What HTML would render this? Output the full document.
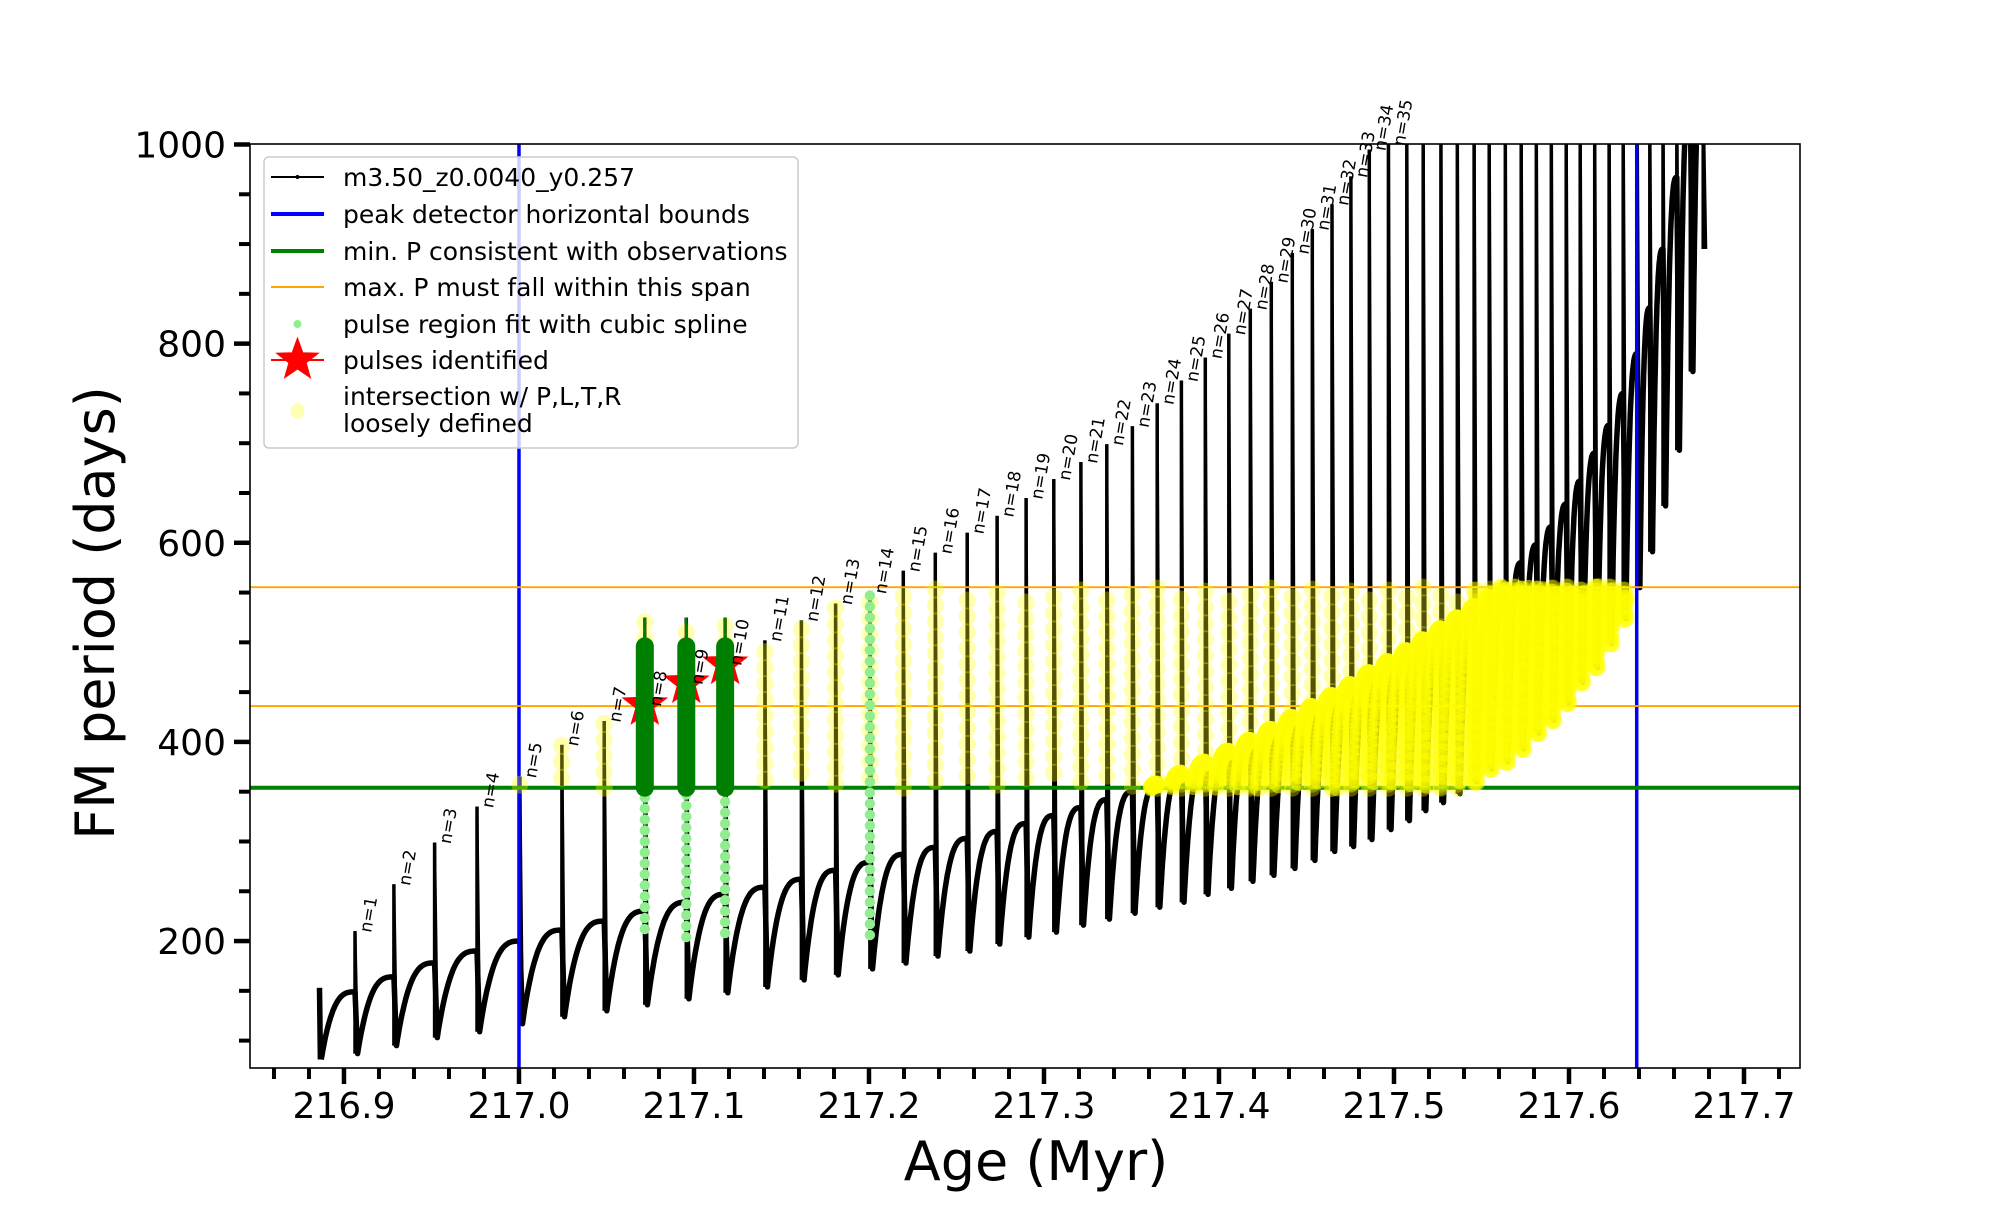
<!DOCTYPE html>
<html><head><meta charset="utf-8"><style>
html,body{margin:0;padding:0;background:#fff;}
svg text{font-family:"DejaVu Sans","Liberation Sans",sans-serif;}
</style></head><body>
<svg id="chart" width="2000" height="1200" viewBox="0 0 2000 1200" xmlns="http://www.w3.org/2000/svg">
<defs><clipPath id="plotclip"><rect x="250" y="144" width="1550" height="924"/></clipPath></defs>
<rect x="0" y="0" width="2000" height="1200" fill="#fff"/>
<g id="plot" clip-path="url(#plotclip)"></g>
<rect x="250" y="144" width="1550" height="924" fill="none" stroke="#000" stroke-width="1.6"/>
<g id="ticks"></g>
<g id="labels"></g>
<text x="114" y="613" transform="rotate(-90 114 613)" font-size="54" text-anchor="middle">FM period (days)</text>
<text x="1036" y="1180" font-size="54" text-anchor="middle">Age (Myr)</text>
<g id="legend">
  <rect x="264" y="157" width="534" height="291" rx="5" fill="#fff" fill-opacity="0.8" stroke="#ccc" stroke-width="1.5"/>
  <g><line x1="271" y1="177" x2="324" y2="177" stroke="#000" stroke-width="2"/><circle cx="297.5" cy="177" r="2" fill="#000"/><text x="343" y="186" font-size="25">m3.50_z0.0040_y0.257</text></g>
  <g><line x1="271" y1="214" x2="324" y2="214" stroke="#0000ff" stroke-width="4"/><text x="343" y="223" font-size="25">peak detector horizontal bounds</text></g>
  <g><line x1="271" y1="251" x2="324" y2="251" stroke="#008000" stroke-width="4"/><text x="343" y="260" font-size="25">min. P consistent with observations</text></g>
  <g><line x1="271" y1="287" x2="324" y2="287" stroke="#ffa500" stroke-width="2"/><text x="343" y="296" font-size="25">max. P must fall within this span</text></g>
  <g><circle cx="297.5" cy="324" r="4" fill="#90ee90"/><text x="343" y="333" font-size="25">pulse region fit with cubic spline</text></g>
  <g><polygon id="legstar" fill="#ff0000" stroke="#ff0000"/><line x1="271" y1="360" x2="324" y2="360" stroke="#ff0000" stroke-width="2"/><text x="343" y="369" font-size="25">pulses identified</text></g>
  <g><ellipse cx="297.5" cy="411" rx="7" ry="8" fill="#ffff00" fill-opacity="0.3"/><text x="343" y="405" font-size="25">intersection w/ P,L,T,R</text><text x="343" y="432" font-size="25">loosely defined</text></g>
</g>
</svg>
<script>
const pulseAge=[216.9063,216.9285,216.9518,216.9760,217.0005,217.0245,217.0487,217.0719,217.0956,217.1178,217.1405,217.1614,217.1809,217.2005,217.2196,217.2379,217.2561,217.2732,217.2898,217.3056,217.3211,217.3359,217.3505,217.3647,217.3785,217.3922,217.4056,217.4179,217.4299,217.4419,217.4533,217.4646,217.4754,217.4859,217.4968,217.5073,217.5167,217.5268,217.5362,217.5458,217.5544,217.5636,217.5727,217.5813,217.5899,217.5984,217.6064,217.6147,217.6229,217.6310,217.6390,217.6462,217.6537,217.6616,217.6693,217.6767];
const pulseTop=[210,257,299,335,365,397,421,525,525,525,502,522,539,550,572,590,610,627,645,664,681,699,717,740,763,786,810,835,862,891,915,940,968,995,1050,1050,1050,1050,1050,1050,1050,1050,1050,1050,1050,1050,1050,1050,1050,1050,1050,1050,1050,1050,1050,1050];
const pulseDip=[87,95,103,109,117,124,130,136,142,148,154,161,166,172,178,185,190,197,204,209,216,222,228,234,239,247,253,260,266,273,281,290,295,302,312,321,331,339,348,360,373,380,393,409,422,439,460,475,499,524,555,591,637,693,772,895];
const prePlateau=[149,164,178,190,200,211,220,230,239,247,254,262,271,279,287,294,303,310,318,326,334,342,350,357,368,379,390,401,412,424,435,446,457,469,480,491,502,513,524,535,545,560,580,598,616,639,662,690,718,750,790,836,895,967,1050,1100];
const startAge=216.886, startValue=153, startDip=81;
const boundAges=[217.0,217.6387];
const minPeriod=[354];
const maxPeriodSpan=[436,555.4];
const starPulse=[8,9,10];
const starPeriod=[437,459,478];
const splinePulse=[8,9,10,14];
const splineLow=[212,204,208,206];
const splineHigh=[354,354,354,550];
const darkTop=[496,496,496];
const xTicks=[216.9,217.0,217.1,217.2,217.3,217.4,217.5,217.6,217.7];
const xTickLabels=["216.9","217.0","217.1","217.2","217.3","217.4","217.5","217.6","217.7"];
const yTicks=[200,400,600,800,1000];
const yTickLabels=["200","400","600","800","1000"];
const labelCount=35;

const X0=216.8463,X1=217.7320,Y0=72.5,Y1=1000;
const PX0=250,PX1=1800,PY0=1068,PY1=144.5;
function X(a){return PX0+(a-X0)/(X1-X0)*(PX1-PX0);}
function Y(v){return PY0+(v-Y0)/(Y1-Y0)*(PY1-PY0);}
const NS="http://www.w3.org/2000/svg";
function mk(tag,attrs,parent){const e=document.createElementNS(NS,tag);for(const k in attrs)e.setAttribute(k,attrs[k]);parent.appendChild(e);return e;}
const plot=document.getElementById('plot');
const ticks=document.getElementById('ticks');
const labels=document.getElementById('labels');

const curvePts=[];
const yellowPts=[];
function rise(a0,v0,a1,v1){
  const n=40;
  for(let i=0;i<=n;i++){const t=i/n;const f=1-Math.pow(1-t,3);curvePts.push([a0+(a1-a0)*t,v0+(v1-v0)*f]);}
}
rise(startAge+0.001,startDip,pulseAge[0],prePlateau[0]);
const spikeParts=[];
for(let k=0;k<pulseAge.length;k++){
  const a=pulseAge[k];
  spikeParts.push([a,Math.min(prePlateau[k],pulseDip[k]),pulseTop[k]]);
  if(k<pulseAge.length-1){ rise(a+0.0015,pulseDip[k],pulseAge[k+1],prePlateau[k+1]); }
}
{
  let d='M'+X(startAge).toFixed(1)+','+Y(startValue).toFixed(1)+' L'+X(startAge+0.0005).toFixed(1)+','+Y(startDip).toFixed(1);
  curvePts.forEach((p,i)=>{d+=(i===0?' M':' L')+X(p[0]).toFixed(1)+','+Y(p[1]).toFixed(1);});
  const path=mk('path',{d:d,fill:'none',stroke:'#000','stroke-width':5.5,'stroke-linejoin':'round'},plot);
  
  
}
spikeParts.forEach((s,k)=>{
  const l=mk('line',{x1:X(s[0]).toFixed(1),x2:X(s[0]).toFixed(1),y1:Y(s[1]).toFixed(1),y2:Y(s[2]).toFixed(1),stroke:'#000','stroke-width':3.5},plot);
  
  
  const l2=mk('line',{x1:X(s[0]).toFixed(1),x2:X(s[0]+0.0015).toFixed(1),y1:Y(s[2]).toFixed(1),y2:Y(pulseDip[k]).toFixed(1),stroke:'#000','stroke-width':3},plot);
  
  
});
boundAges.forEach(a=>{
  const l=mk('line',{x1:X(a),x2:X(a),y1:144,y2:1068,stroke:'#0000ff','stroke-width':3.5},plot);
  
  
});
minPeriod.forEach(v=>{
  const l=mk('line',{x1:250,x2:1800,y1:Y(v),y2:Y(v),stroke:'#008000','stroke-width':4},plot);
  
  
});
maxPeriodSpan.forEach(v=>{
  const l=mk('line',{x1:250,x2:1800,y1:Y(v),y2:Y(v),stroke:'#ffa500','stroke-width':1.8},plot);
  
  
});
const yg=mk('g',{},plot);


function inBox(a,v){return a>=boundAges[0]&&a<=boundAges[1]&&v>=minPeriod[0]&&v<=maxPeriodSpan[1];}
for(let i=0;i<curvePts.length;i++){const p=curvePts[i];if(inBox(p[0],p[1])){yellowPts.push(p);yellowPts.push(p);}}
spikeParts.forEach((s,k)=>{
  for(let v=pulseDip[k];v<=s[2];v+=16){if(inBox(s[0],v))yellowPts.push([s[0],v]);}
  const lo=Math.max(pulseDip[k],minPeriod[0]);
  const hi=Math.min(prePlateau[k],maxPeriodSpan[1]);
  for(let v=lo;v<=hi;v+=4){if(inBox(s[0],v))yellowPts.push([s[0],v]);}
  if(pulseDip[k]>=minPeriod[0]){
    for(let v=pulseDip[k];v<=maxPeriodSpan[1];v+=4){if(inBox(s[0],v))yellowPts.push([s[0]+0.001,v]);}
  }
});
yellowPts.forEach(p=>{
  const c=mk('ellipse',{cx:X(p[0]).toFixed(1),cy:Y(p[1]).toFixed(1),rx:8.5,ry:9,fill:'#ffff00','fill-opacity':0.32},yg);
  
  
});
splinePulse.forEach((n,i)=>{
  const a=pulseAge[n-1];
  for(let v=splineLow[i];v<=splineHigh[i];v+=11){
    const c=mk('circle',{cx:X(a).toFixed(1),cy:Y(v).toFixed(1),r:5.2,fill:'#90ee90'},plot);
    
    
  }
});
function starPts(cx,cy,R,r){let s=[];for(let i=0;i<10;i++){const ang=-Math.PI/2+i*Math.PI/5;const rr=i%2?r:R;s.push((cx+rr*Math.cos(ang)).toFixed(1)+','+(cy+rr*Math.sin(ang)).toFixed(1));}return s.join(' ');}
starPulse.forEach((n,i)=>{
  const st=mk('polygon',{points:starPts(X(pulseAge[n-1]),Y(starPeriod[i]),23,9.5),fill:'#ff0000',stroke:'#ff0000','stroke-width':1},plot);
  
  
});
document.getElementById('legstar').setAttribute('points',starPts(297.5,360,22,9));
starPulse.forEach((n,i)=>{
  const a=X(pulseAge[n-1]);
  const t=mk('line',{x1:a,x2:a,y1:Y(darkTop[i]),y2:Y(pulseTop[n-1]),stroke:'#008000','stroke-width':2.5},plot);
  
  
  const b=mk('line',{x1:a,x2:a,y1:Y(minPeriod[0]),y2:Y(darkTop[i]),stroke:'#008000','stroke-width':18,'stroke-linecap':'round'},plot);
  
  
});
for(let k=0;k<labelCount;k++){
  let v=Math.min(pulseTop[k],1000);
  const si=starPulse.indexOf(k+1);
  if(si>=0)v=starPeriod[si];
  const x=X(pulseAge[k])+16, y=Y(v)+2;
  const t=mk('text',{x:x.toFixed(1),y:y.toFixed(1),'font-size':17,transform:'rotate(-80 '+x.toFixed(1)+' '+y.toFixed(1)+')'},labels);
  t.textContent='n='+(k+1);
  
  
}
for(let i=0;i<=43;i++){
  const a=216.86+i*0.02; const x=X(a);
  const major=Math.abs(Math.round(a*10)/10-a)<1e-6;
  if(major)continue;
  const l=mk('line',{x1:x,x2:x,y1:1068,y2:1079,stroke:'#000','stroke-width':4},ticks);
  
  
}
xTicks.forEach((a,i)=>{
  const x=X(a);
  const l=mk('line',{x1:x,x2:x,y1:1068,y2:1084,stroke:'#000','stroke-width':4.5},ticks);
  
  
  const t=mk('text',{x:x,y:1118,'font-size':36,'text-anchor':'middle'},ticks);
  t.textContent=xTickLabels[i];
  
  
});
for(let v=100;v<=1000;v+=50){
  if(v%200===0)continue;
  const y=Y(v);
  const l=mk('line',{x1:239,x2:250,y1:y,y2:y,stroke:'#000','stroke-width':4},ticks);
  
  
}
yTicks.forEach((v,i)=>{
  const y=Y(v);
  const l=mk('line',{x1:234,x2:250,y1:y,y2:y,stroke:'#000','stroke-width':4.5},ticks);
  
  
  const t=mk('text',{x:226,y:y+13,'font-size':36,'text-anchor':'end'},ticks);
  t.textContent=yTickLabels[i];
  
  
});
</script>
</body></html>
